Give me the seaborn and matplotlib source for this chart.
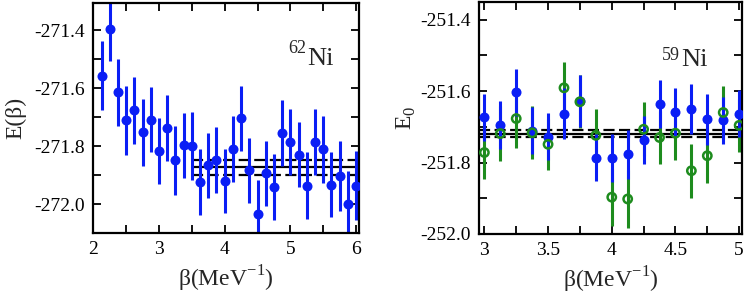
import numpy as np
import seaborn as sns
import matplotlib.pyplot as plt
from matplotlib.ticker import MultipleLocator, FormatStrFormatter

# 62Ni: E(beta) vs beta
beta_62 = [2.125, 2.25, 2.375, 2.5, 2.625, 2.75, 2.875, 3.0, 3.125, 3.25, 3.375,
           3.5, 3.625, 3.75, 3.875, 4.0, 4.125, 4.25, 4.375, 4.5, 4.625, 4.75,
           4.875, 5.0, 5.125, 5.25, 5.375, 5.5, 5.625, 5.75, 5.875, 6.0]
e_62 = [-271.556, -271.395, -271.614, -271.711, -271.676, -271.752, -271.709,
        -271.817, -271.737, -271.849, -271.797, -271.800, -271.923, -271.866,
        -271.848, -271.920, -271.811, -271.704, -271.883, -272.033, -271.894,
        -271.941, -271.754, -271.786, -271.829, -271.936, -271.786, -271.811,
        -271.933, -271.903, -271.999, -271.936]
err_62 = [0.120, 0.110, 0.115, 0.120, 0.116, 0.116, 0.112, 0.114, 0.113, 0.118,
          0.112, 0.118, 0.114, 0.112, 0.115, 0.111, 0.114, 0.112, 0.113, 0.115,
          0.113, 0.115, 0.115, 0.113, 0.113, 0.117, 0.115, 0.115, 0.113, 0.120,
          0.115, 0.118]
fit_62 = [-271.846, -271.872, -271.898]
fit_62_range = [3.5, 6.0]

# 59Ni: E0 vs beta, two series
beta_59 = [3.0, 3.125, 3.25, 3.375, 3.5, 3.625, 3.75, 3.875, 4.0, 4.125, 4.25,
           4.375, 4.5, 4.625, 4.75, 4.875, 5.0]
e_59_blue = [-251.674, -251.695, -251.603, -251.711, -251.728, -251.663, -251.628,
             -251.786, -251.788, -251.777, -251.737, -251.637, -251.659, -251.649,
             -251.679, -251.682, -251.663]
err_59_blue = [0.067, 0.067, 0.066, 0.066, 0.066, 0.072, 0.072, 0.065, 0.067,
               0.069, 0.067, 0.067, 0.067, 0.070, 0.072, 0.066, 0.065]
e_59_green = [-251.772, -251.719, -251.677, -251.717, -251.749, -251.591, -251.630,
              -251.724, -251.897, -251.902, -251.707, -251.730, -251.718, -251.823,
              -251.781, -251.660, -251.696]
err_59_green = [0.073, 0.076, 0.082, 0.074, 0.071, 0.073, 0.074, 0.074, 0.080,
                0.080, 0.075, 0.074, 0.074, 0.076, 0.077, 0.073, 0.074]
fit_59 = [-251.709, -251.719, -251.728]

BLUE = '#0a1ef5'
GREEN = '#1e8c1e'

sns.set_theme(style='ticks')
plt.rcParams['font.family'] = ['Liberation Serif', 'DejaVu Serif']
plt.rcParams['mathtext.fontset'] = 'custom'
plt.rcParams['mathtext.rm'] = 'Liberation Serif'

fig = plt.figure(figsize=(7.47, 2.95), dpi=100)
ax1 = fig.add_axes([0.1249, 0.2102, 0.3561, 0.7796])
ax2 = fig.add_axes([0.6416, 0.2068, 0.3513, 0.7874])

XLABEL = r'β(MeV$^{\mathregular{-1}}$)'


def style_axes(ax):
    for s in ax.spines.values():
        s.set_linewidth(1.6)
        s.set_color('black')
    ax.tick_params(which='both', direction='in', top=True, right=True,
                   labelsize=14, colors='black', pad=6)
    ax.tick_params(which='major', length=6, width=1.3)
    ax.tick_params(which='minor', length=6, width=1.3)


def isotope(ax, mass, x, y, y_sup):
    ax.text(x, y, 'Ni', transform=ax.transAxes, fontsize=19,
            ha='left', va='baseline')
    ax.text(x - 0.004, y_sup, mass, transform=ax.transAxes, fontsize=13,
            ha='right', va='baseline')


# left panel
ax1.errorbar(beta_62, e_62, yerr=err_62, fmt='none', ecolor=BLUE,
             elinewidth=2.2, capsize=0, zorder=2)
sns.scatterplot(x=beta_62, y=e_62, ax=ax1, color=BLUE, s=52,
                edgecolor=BLUE, linewidth=0, zorder=3)
for val, ls in zip(fit_62, ['--', '-', '--']):
    ax1.plot(fit_62_range, [val, val], color='black', ls=ls, lw=1.6,
             dashes=(5, 2) if ls == '--' else (None, None), zorder=1)
ax1.set_xlim(2, 6.05)
ax1.set_ylim(-272.1, -271.305)
ax1.xaxis.set_major_locator(MultipleLocator(1))
ax1.xaxis.set_minor_locator(MultipleLocator(0.5))
ax1.yaxis.set_major_locator(MultipleLocator(0.2))
ax1.yaxis.set_minor_locator(MultipleLocator(0.1))
ax1.yaxis.set_major_formatter(FormatStrFormatter('%.1f'))
ax1.set_xlabel(XLABEL, fontsize=17, labelpad=4)
ax1.set_ylabel('E(β)', fontsize=17, labelpad=6)
isotope(ax1, '62', 0.803, 0.73, 0.781)
style_axes(ax1)

# right panel
ax2.errorbar(beta_59, e_59_green, yerr=err_59_green, fmt='none', ecolor=GREEN,
             elinewidth=2.2, capsize=0, zorder=2)
ax2.errorbar(beta_59, e_59_blue, yerr=err_59_blue, fmt='none', ecolor=BLUE,
             elinewidth=2.2, capsize=0, zorder=3)
sns.scatterplot(x=beta_59, y=e_59_blue, ax=ax2, color=BLUE, s=52,
                edgecolor=BLUE, linewidth=0, zorder=4)
sns.scatterplot(x=beta_59, y=e_59_green, ax=ax2, s=36, marker='o',
                facecolor='none', edgecolor=GREEN, linewidth=1.8, zorder=5)
for val, ls in zip(fit_59, ['--', '-', '--']):
    ax2.axhline(val, color='black', ls=ls, lw=1.6,
                dashes=(5, 2) if ls == '--' else (None, None), zorder=1)
ax2.set_xlim(2.96, 5.02)
ax2.set_ylim(-252.0, -251.35)
ax2.xaxis.set_major_locator(MultipleLocator(0.5))
ax2.xaxis.set_minor_locator(MultipleLocator(0.25))
ax2.xaxis.set_major_formatter(FormatStrFormatter('%g'))
ax2.yaxis.set_major_locator(MultipleLocator(0.2))
ax2.yaxis.set_minor_locator(MultipleLocator(0.1))
ax2.yaxis.set_major_formatter(FormatStrFormatter('%.1f'))
ax2.set_xlabel(XLABEL, fontsize=17, labelpad=4)
ax2.set_ylabel(r'E$_{\mathregular{0}}$', fontsize=17, labelpad=2)
isotope(ax2, '59', 0.770, 0.723, 0.749)
style_axes(ax2)

fig.savefig('out.png', dpi=100)
